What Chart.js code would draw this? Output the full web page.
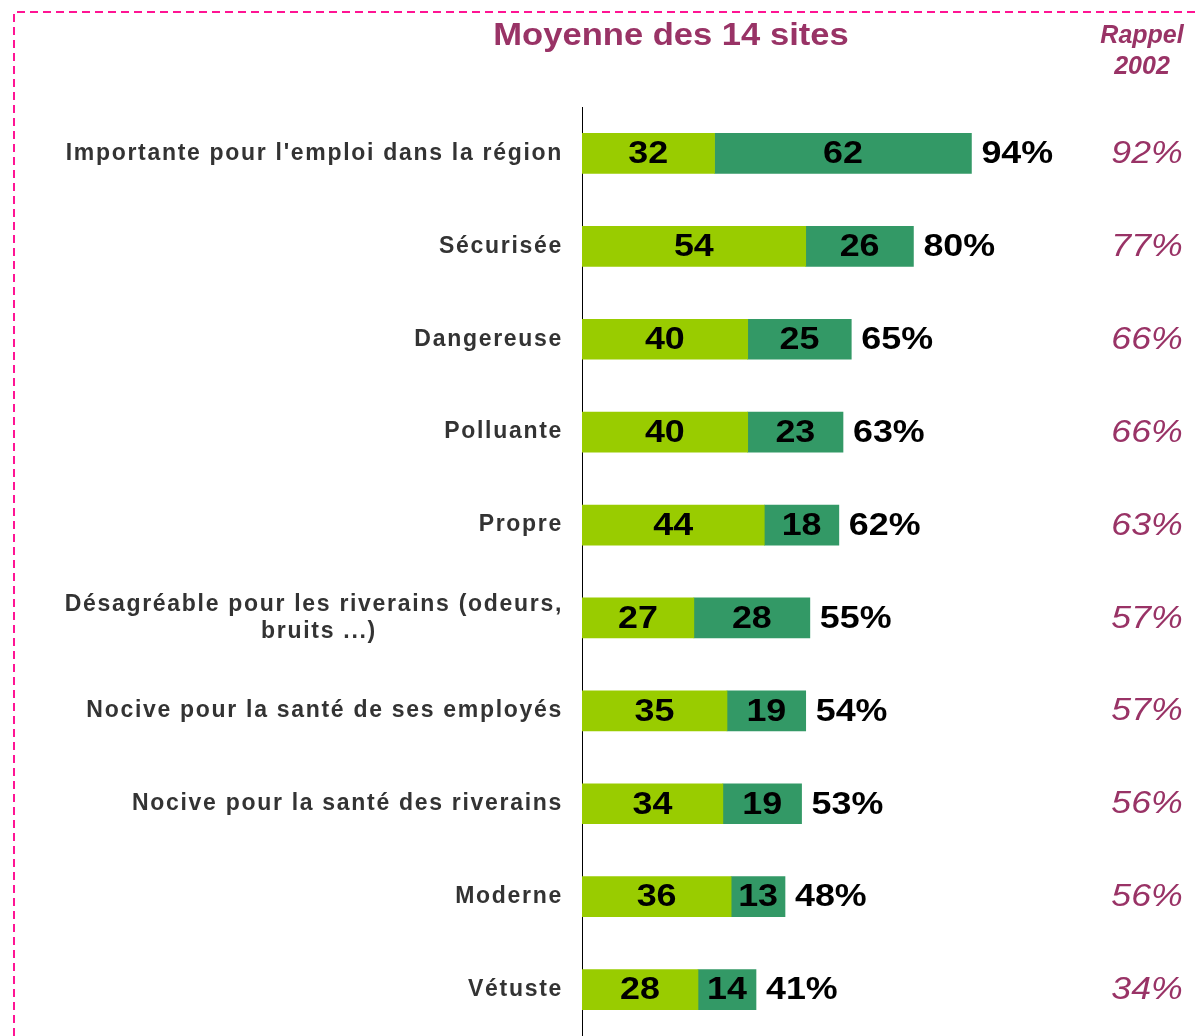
<!DOCTYPE html>
<html>
<head>
<meta charset="utf-8">
<script src="https://cdn.jsdelivr.net/npm/chart.js@4/dist/chart.umd.min.js"></script>
<style>
  body { margin: 0; background: #fff; }
  #wrap { width: 1200px; height: 1036px; position: relative; }
</style>
</head>
<body>
<div id="wrap"><canvas id="siteChart"></canvas></div>
<script>
const categories = [
    "Importante pour l'emploi dans la région",
    'Sécurisée',
    'Dangereuse',
    'Polluante',
    'Propre',
    ['Désagréable pour les riverains (odeurs,', 'bruits ...)'],
    'Nocive pour la santé de ses employés',
    'Nocive pour la santé des riverains',
    'Moderne',
    'Vétuste'
];
const firstSeries = [32, 54, 40, 40, 44, 27, 35, 34, 36, 28];
const secondSeries = [62, 26, 25, 23, 18, 28, 19, 19, 13, 14];
const totals = [94, 80, 65, 63, 62, 55, 54, 53, 48, 41];
const rappel2002 = [92, 77, 66, 66, 63, 57, 57, 56, 56, 34];

const FONT = '"Liberation Sans", Arial, sans-serif';
const PLUM = '#993366';
const LABEL_FONT = 'bold 23px ' + FONT;
const LABEL_SPACING = '1.7px';

Chart.defaults.font.family = FONT;

// second line of a wrapped label is centred under the first one
function centerLines(lines) {
    if (!Array.isArray(lines)) return lines;
    const c = document.createElement('canvas').getContext('2d');
    c.font = LABEL_FONT;
    c.letterSpacing = LABEL_SPACING;
    const w1 = c.measureText(lines[0]).width;
    const w2 = c.measureText(lines[1]).width;
    let s = lines[1];
    while (c.measureText(s + ' ').width <= (w1 + w2) / 2) s += ' ';
    return [lines[0], s];
}

// the original deck stretches its numbers sideways a little
function wideText(ctx, text, x, y, sx) {
    ctx.save();
    ctx.translate(x, y);
    ctx.scale(sx, 1);
    ctx.fillText(text, 0, 0);
    ctx.restore();
}

const decorPlugin = {
    id: 'decor',
    beforeDraw(chart) {
        chart.ctx.letterSpacing = LABEL_SPACING;
    },
    afterDatasetsDraw(chart) {
        const ctx = chart.ctx;
        ctx.save();
        ctx.letterSpacing = '0px';
        ctx.textBaseline = 'middle';
        // values inside the segments
        ctx.font = 'bold 32px ' + FONT;
        ctx.fillStyle = '#000';
        ctx.textAlign = 'center';
        [firstSeries, secondSeries].forEach((series, di) => {
            chart.getDatasetMeta(di).data.forEach((bar, i) => {
                wideText(ctx, String(series[i]), (bar.x + bar.base) / 2, bar.y + 1, 1.12);
            });
        });
        // totals after the bars
        ctx.textAlign = 'left';
        chart.getDatasetMeta(1).data.forEach((bar, i) => {
            wideText(ctx, totals[i] + '%', bar.x + 10, bar.y + 1, 1.12);
        });
        // 2002 column
        ctx.font = 'italic 31px ' + FONT;
        ctx.fillStyle = PLUM;
        ctx.textAlign = 'center';
        chart.getDatasetMeta(1).data.forEach((bar, i) => {
            wideText(ctx, rappel2002[i] + '%', 1147, bar.y + 1, 1.15);
        });
        ctx.restore();
    },
    afterDraw(chart) {
        const ctx = chart.ctx;
        ctx.save();
        ctx.letterSpacing = '0px';
        ctx.textBaseline = 'middle';
        ctx.fillStyle = PLUM;
        ctx.textAlign = 'center';
        ctx.font = 'bold 32px ' + FONT;
        wideText(ctx, 'Moyenne des 14 sites', 671, 36, 1.08);
        ctx.font = 'italic bold 25px ' + FONT;
        ctx.fillText('Rappel', 1142, 36);
        ctx.fillText('2002', 1142, 67);
        // dashed frame
        ctx.strokeStyle = '#ff1493';
        ctx.lineWidth = 2;
        ctx.setLineDash([8, 5]);
        ctx.beginPath();
        ctx.moveTo(14, 1036);
        ctx.lineTo(14, 12);
        ctx.lineTo(1200, 12);
        ctx.stroke();
        ctx.restore();
    }
};

new Chart(document.getElementById('siteChart'), {
    type: 'bar',
    data: {
        labels: categories.map(centerLines),
        datasets: [
            {
                label: 'Plutôt',
                data: firstSeries,
                backgroundColor: '#99cc00',
                barThickness: 40
            },
            {
                label: 'Tout à fait',
                data: secondSeries,
                backgroundColor: '#339966',
                barThickness: 40
            }
        ]
    },
    options: {
        indexAxis: 'y',
        responsive: true,
        maintainAspectRatio: false,
        animation: false,
        layout: { padding: { top: 107, right: 38, bottom: 0, left: 0 } },
        plugins: {
            legend: { display: false },
            tooltip: { enabled: false }
        },
        scales: {
            x: {
                stacked: true,
                min: 0,
                max: 140,
                display: false
            },
            y: {
                stacked: true,
                grid: { display: false, drawTicks: false },
                border: { display: true, color: '#000', width: 1 },
                ticks: {
                    padding: 19,
                    color: '#333',
                    font: { size: 23, weight: 'bold', lineHeight: 1.17 }
                },
                afterFit(scale) {
                    scale.width = 582;
                    scale.paddingTop = 0;
                    scale.paddingBottom = 0;
                }
            }
        }
    },
    plugins: [decorPlugin]
});
</script>
</body>
</html>
